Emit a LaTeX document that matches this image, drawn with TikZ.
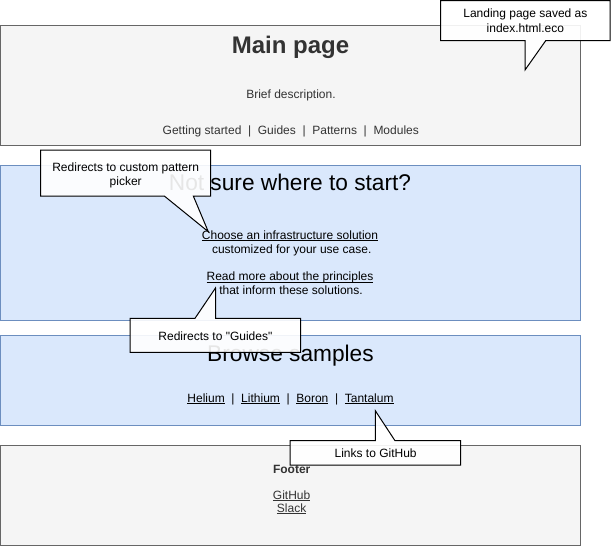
\documentclass[tikz,border=0pt]{standalone}
\usepackage{fontspec}
\setmainfont{Liberation Sans}[Ligatures=TeXOff]
\usepackage{xcolor}
\usetikzlibrary{positioning}
\definecolor{panelgrey}{HTML}{666666}
\definecolor{panelfill}{HTML}{F5F5F5}
\definecolor{blueline}{HTML}{6C8EBF}
\definecolor{bluefill}{HTML}{DAE8FC}
\definecolor{textgrey}{HTML}{333333}
\newsavebox{\linkbox}
\newcommand{\linktext}[1]{\sbox{\linkbox}{#1}\rlap{\rule[-1.6pt]{\wd\linkbox}{0.8pt}}\usebox{\linkbox}}
\newcommand{\navsep}{\ \ |\ \ }
\tikzset{%
	panel/.style     = {line width=1pt},
	greypanel/.style = {panel, draw=panelgrey, fill=panelfill},
	bluepanel/.style = {panel, draw=blueline, fill=bluefill},
	callout/.style   = {draw=black, line width=1pt, fill=white, fill opacity=0.9},
	label/.style     = {font=\fontsize{12}{14}\selectfont, inner sep=0pt, anchor=base},
	heading/.style   = {font=\fontsize{22.7}{27}\selectfont, inner sep=0pt, anchor=base},
	boldhead/.style  = {font=\bfseries\fontsize{24}{29}\selectfont, inner sep=0pt, anchor=base},
}

\begin{document}
\begin{tikzpicture}[x=1pt,y=-1pt]
	\useasboundingbox (0,0) rectangle (611,546);
	% page sections
	\draw[greypanel] (0.5,25) rectangle (580.3,145);
	\draw[bluepanel] (0.5,165) rectangle (580.3,320);
	\draw[bluepanel] (0.5,335) rectangle (580.3,425);
	\draw[greypanel] (0.5,445) rectangle (580.3,545);
	
	% header
	\node[boldhead, text=textgrey] (title) at (290.5,53) {Main page};
	\node[label, text=textgrey] (brief) at (291,98) {Brief description.};
	\node[label, text=textgrey] (nav) at (290.8,134.5) {Getting started\navsep Guides\navsep Patterns\navsep Modules};
	
	% start section
	\node[heading] (start) at (290,190) {Not sure where to start?};
	\node[label] (choose) at (290,239) {\linktext{Choose an infrastructure solution}};
	\node[label] (usecase) at (291.7,253.3) {customized for your use case.};
	\node[label] (readmore) at (290,280.7) {\linktext{Read more about the principles}};
	\node[label] (inform) at (291,294.7) {that inform these solutions.};
	
	% samples section
	\node[heading] (browse) at (290.5,361.5) {Browse samples};
	\node[label] (samples) at (290.5,402) {\linktext{Helium}\navsep\linktext{Lithium}\navsep\linktext{Boron}\navsep\linktext{Tantalum}};
	
	% footer
	\node[label, text=textgrey, font=\bfseries\fontsize{12}{14}\selectfont] (footer) at (291.7,473) {Footer};
	\node[label, text=textgrey] (github) at (291.6,499) {\linktext{GitHub}};
	\node[label, text=textgrey] (slack) at (291.6,512.5) {\linktext{Slack}};
	
	% callouts
	\coordinate (tipsaved) at (525,70);
	\draw[callout] (440.7,0.5) -- (610,0.5) -- (610,40.7) -- (545.7,40.7) -- (tipsaved) -- (525,40.7) -- (440.7,40.7) -- cycle;
	\node[label] (saved) at (525.4,17.5) {Landing page saved as};
	\node[label] (savedtwo) at (525.4,32.5) {index.html.eco};
	
	\coordinate (tippicker) at (208.3,231.7);
	\draw[callout] (40.7,150) -- (210.7,150) -- (210.7,196) -- (193.3,196) -- (tippicker) -- (164.3,196) -- (40.7,196) -- cycle;
	\node[label] (picker) at (125.7,171) {Redirects to custom pattern};
	\node[label] (pickertwo) at (125.7,185) {picker};
	
	\coordinate (tipguides) at (215.5,288);
	\draw[callout] (130,318.3) -- (195,318.3) -- (tipguides) -- (215.7,318.3) -- (300.7,318.3) -- (300.7,352.3) -- (130,352.3) -- cycle;
	\node[label] (guides) at (215.4,340) {Redirects to "Guides"};
	
	\coordinate (tiplinks) at (375.3,410.7);
	\draw[callout] (290,440.7) -- (375.3,440.7) -- (tiplinks) -- (395,440.7) -- (460.7,440.7) -- (460.7,465) -- (290,465) -- cycle;
	\node[label] (links) at (375.6,457.5) {Links to GitHub};
\end{tikzpicture}
\end{document}
